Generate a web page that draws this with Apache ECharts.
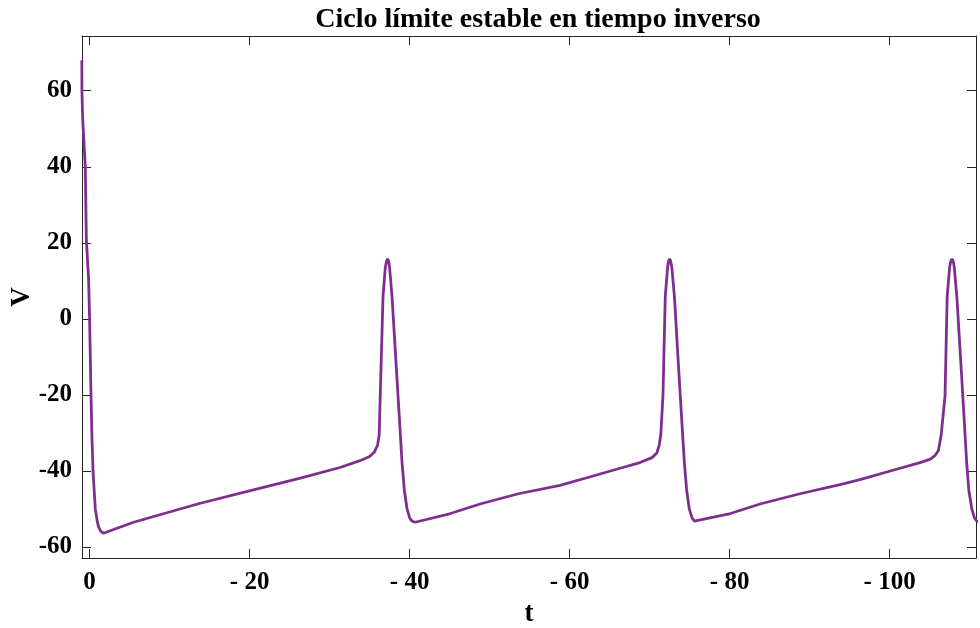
<!DOCTYPE html>
<html>
<head>
<meta charset="utf-8">
<script src="https://cdn.jsdelivr.net/npm/echarts@6/dist/echarts.min.js"></script>
<style>
html,body{margin:0;padding:0;background:#fff;}
#chart{width:980px;height:628px;}
</style>
</head>
<body>
<div id="chart"></div>
<script>
// Time values (t, reverse time) and membrane voltage V
const tValues = [
  0.97, 0.96, 0.86, 0.54, 0.41, 0.125, 0, -0.175, -0.3, -0.43, -0.71, -0.95, -1.13, -1.4, -1.75,
  -3.0, -5.5, -9.0, -13.84, -20.1, -26.34, -31.3, -33.8, -35.0, -35.6, -36.0, -36.2, -36.33, -36.68, -36.96,
  -37.12, -37.25, -37.38, -37.5, -37.8, -38.43, -39.05, -39.34, -39.68, -40.0, -40.3, -40.7,
  -45.1, -48.8, -53.6, -58.8, -63.8, -66.3, -68.8, -70.3, -70.9, -71.2, -71.4, -71.67, -71.96, -72.25,
  -72.37, -72.5, -72.63, -72.78, -73.1, -73.71, -74.34, -74.63, -74.96, -75.3, -75.6, -75.84,
  -80.1, -83.8, -88.8, -93.8, -96.3, -101.3, -103.8, -105.1, -105.7, -106.1, -106.45, -106.93, -107.2,
  -107.5, -107.65, -107.8, -107.95, -108.09, -108.4, -109.03, -109.63, -109.9, -110.28, -110.6, -110.9, -111.2
];
const vValues = [
  68, 60, 52.4, 40, 21, 10.5, 0, -20, -31.6, -40, -50, -53.2, -54.8, -55.9, -56.4,
  -55.4, -53.5, -51.4, -48.5, -45.2, -41.9, -39.1, -37.3, -36.2, -35.0, -33.2, -30.5, -20.2, 6.0, 13.5,
  15.2, 15.8, 15.2, 13.5, 6.0, -15.9, -37.7, -45, -50.0, -52.3, -53.2, -53.5,
  -51.2, -48.7, -46.0, -43.8, -40.8, -39.3, -37.8, -36.5, -35.3, -33.2, -30.5, -20.2, 6.0, 13.5,
  15.2, 15.8, 15.2, 13.5, 6.0, -15.9, -37.7, -45, -50.0, -52.3, -53.2, -53.5,
  -51.2, -48.7, -46.0, -43.6, -42.3, -39.3, -37.8, -36.9, -35.9, -34.6, -30.5, -20.2, 6.0,
  13.5, 15.2, 15.8, 15.2, 13.5, 6.0, -15.9, -37.7, -45, -50.0, -52.3, -53.2, -53.5
];
const xTicks = [0, -20, -40, -60, -80, -100];
const yTicks = [-60, -40, -20, 0, 20, 40, 60];
const titleText = 'Ciclo límite estable en tiempo inverso';

const data = tValues.map((t, i) => [t, vValues[i]]);
const font = 'Liberation Serif';
const axisColor = '#262626';
const xMin = -110.8, xMax = 0.95, yMin = -62.9, yMax = 74.4;

const chart = echarts.init(document.getElementById('chart'), null, {renderer: 'canvas'});
const xFmt = v => v === 0 ? '0' : '- ' + Math.abs(v);
chart.setOption({
  animation: false,
  backgroundColor: '#fff',
  title: {
    text: titleText, left: 533, top: 1, textAlign: 'center',
    textStyle: {fontFamily: font, fontWeight: 'bold', fontSize: 28, color: '#000'}
  },
  grid: {left: 82, right: 4, top: 36, bottom: 70, containLabel: false, outerBoundsMode: 'none'},
  xAxis: [{
    type: 'value', inverse: true, min: xMin, max: xMax,
    name: 't', nameLocation: 'middle', nameGap: 43,
    nameTextStyle: {fontFamily: font, fontWeight: 'bold', fontSize: 27, color: '#000'},
    axisLine: {show: true, onZero: false, lineStyle: {color: axisColor, width: 1}},
    axisTick: {show: true, inside: true, length: 9, customValues: xTicks, lineStyle: {color: axisColor}},
    axisLabel: {show: true, customValues: xTicks, formatter: xFmt, margin: 12,
      fontFamily: font, fontWeight: 'bold', fontSize: 25, color: '#000'},
    splitLine: {show: false}
  }, {
    type: 'value', inverse: true, min: xMin, max: xMax, position: 'top',
    axisLine: {show: true, onZero: false, lineStyle: {color: axisColor, width: 1}},
    axisTick: {show: true, inside: true, length: 9, customValues: xTicks, lineStyle: {color: axisColor}},
    axisLabel: {show: false}, splitLine: {show: false}
  }],
  yAxis: [{
    type: 'value', min: yMin, max: yMax,
    name: 'V', nameLocation: 'middle', nameGap: 46, nameRotate: 90, nameMoveOverlap: false,
    nameTextStyle: {fontFamily: font, fontWeight: 'bold', fontSize: 27, color: '#000'},
    axisLine: {show: true, onZero: false, lineStyle: {color: axisColor, width: 1}},
    axisTick: {show: true, inside: true, length: 9, customValues: yTicks, lineStyle: {color: axisColor}},
    axisLabel: {show: true, customValues: yTicks, margin: 10,
      fontFamily: font, fontWeight: 'bold', fontSize: 25, color: '#000'},
    splitLine: {show: false}
  }, {
    type: 'value', min: yMin, max: yMax, position: 'right',
    axisLine: {show: true, onZero: false, lineStyle: {color: axisColor, width: 1}},
    axisTick: {show: true, inside: true, length: 9, customValues: yTicks, lineStyle: {color: axisColor}},
    axisLabel: {show: false}, splitLine: {show: false}
  }],
  series: [{
    type: 'line', data: data, xAxisIndex: 0, yAxisIndex: 0,
    showSymbol: false, smooth: false, clip: true,
    lineStyle: {color: '#7E2F8E', width: 2.8}
  }]
});
</script>
</body>
</html>
